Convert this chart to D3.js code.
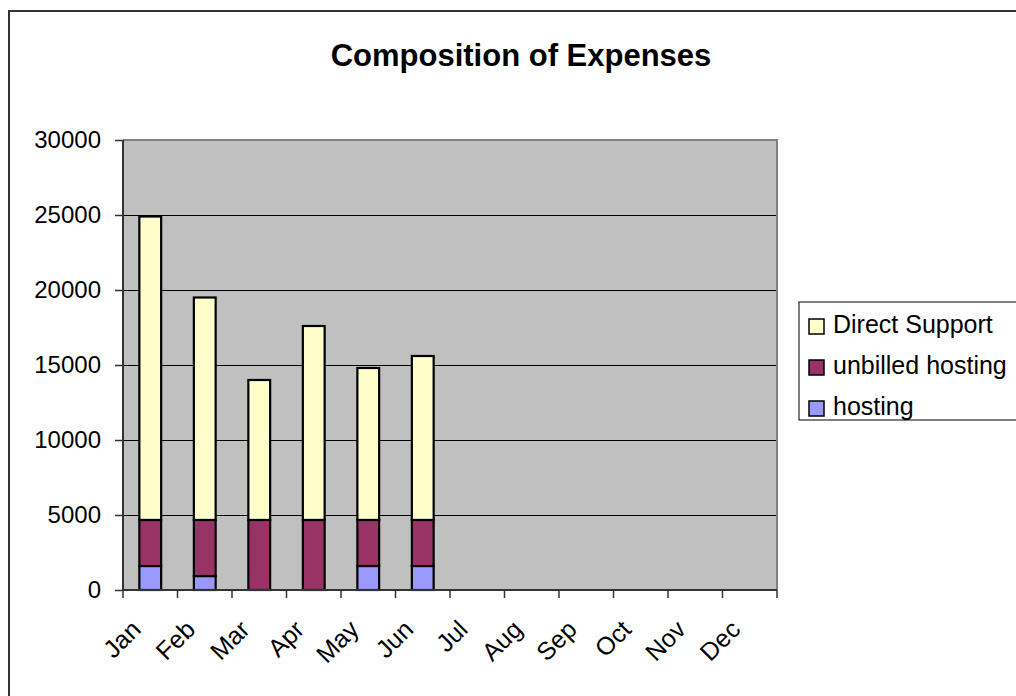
<!DOCTYPE html>
<html>
<head>
<meta charset="utf-8">
<script src="https://cdn.jsdelivr.net/npm/d3@7/dist/d3.min.js"></script>
<style>
html,body{margin:0;padding:0;background:#fff;overflow:hidden;}
svg{display:block;font-family:Arial,"Liberation Sans",sans-serif;}
</style>
</head>
<body>
<svg id="chart" width="1016" height="696"></svg>
<script>
const months = ["Jan","Feb","Mar","Apr","May","Jun","Jul","Aug","Sep","Oct","Nov","Dec"];
const hosting = [1600, 930, 0, 0, 1600, 1600];
const unbilledHosting = [3070, 3740, 4670, 4670, 3070, 3070];
const directSupport = [20230, 14830, 9330, 12930, 10130, 10930];
const yTicks = [0, 5000, 10000, 15000, 20000, 25000, 30000];
const seriesNames = ["hosting", "unbilled hosting", "Direct Support"];
const seriesColors = ["#9999FF", "#993366", "#FFFFCC"];

const svg = d3.select("#chart");
const plot = {left: 123, top: 140, right: 777, bottom: 590};

// outer chart border
svg.append("rect").attr("x", 9).attr("y", 11).attr("width", 1030).attr("height", 720)
  .attr("fill", "#fff").attr("stroke", "#333").attr("stroke-width", 2);

// title
svg.append("text").attr("x", 521).attr("y", 66).attr("text-anchor", "middle")
  .attr("font-size", 31).attr("font-weight", "bold").attr("fill", "#000")
  .text("Composition of Expenses");

const x = d3.scaleBand().domain(months).range([plot.left, plot.right]).paddingInner(0).paddingOuter(0);
const y = d3.scaleLinear().domain([0, 30000]).range([plot.bottom, plot.top]);

// plot background
svg.append("rect").attr("x", plot.left).attr("y", plot.top)
  .attr("width", plot.right - plot.left).attr("height", plot.bottom - plot.top)
  .attr("fill", "#C0C0C0");

// gridlines
svg.append("g").selectAll("line").data(yTicks.filter(d => d > 0)).join("line")
  .attr("x1", plot.left).attr("x2", plot.right)
  .attr("y1", d => y(d)).attr("y2", d => y(d))
  .attr("stroke", "#000").attr("stroke-width", 1).attr("shape-rendering", "crispEdges");

// plot border (top & right gray)
svg.append("path")
  .attr("d", `M${plot.left},${plot.top}H${plot.right}V${plot.bottom}`)
  .attr("fill", "none").attr("stroke", "#808080").attr("stroke-width", 2);

// stacked data
const rows = months.slice(0, directSupport.length).map((m, i) => ({
  month: m, "hosting": hosting[i], "unbilled hosting": unbilledHosting[i], "Direct Support": directSupport[i]
}));
const stack = d3.stack().keys(seriesNames)(rows);
const barW = x.bandwidth() / 2.5;

stack.forEach((layer, li) => {
  svg.append("g").selectAll("rect").data(layer.filter(d => d[1] - d[0] > 0)).join("rect")
    .attr("x", d => x(d.data.month) + (x.bandwidth() - barW) / 2)
    .attr("y", d => y(d[1]))
    .attr("width", barW)
    .attr("height", d => y(d[0]) - y(d[1]))
    .attr("fill", seriesColors[li])
    .attr("stroke", "#000").attr("stroke-width", 2.2);
});

// y axis
const yAxis = d3.axisLeft(y).tickValues(yTicks).tickSize(8).tickPadding(14).tickFormat(d3.format("d"));
const gy = svg.append("g").attr("transform", `translate(${plot.left},0)`).call(yAxis);
gy.select(".domain").attr("stroke", "#333").attr("stroke-width", 2).attr("d", `M0,${plot.top}V${plot.bottom}`);
gy.selectAll(".tick line").attr("stroke", "#333").attr("stroke-width", 1.5);
gy.selectAll(".tick text").attr("font-size", 24).attr("fill", "#000")
  .attr("font-family", "Arial, 'Liberation Sans', sans-serif");

// x axis (ticks on band boundaries)
const bounds = months.map(m => x(m)).concat([plot.right]);
svg.append("line").attr("x1", plot.left).attr("x2", plot.right)
  .attr("y1", plot.bottom).attr("y2", plot.bottom).attr("stroke", "#333").attr("stroke-width", 2);
svg.append("g").selectAll("line").data(bounds).join("line")
  .attr("x1", d => d).attr("x2", d => d).attr("y1", plot.bottom).attr("y2", plot.bottom + 8)
  .attr("stroke", "#333").attr("stroke-width", 1.5);
svg.append("g").selectAll("text").data(months).join("text")
  .attr("transform", d => `translate(${x(d) + x.bandwidth() / 2 - 8},631) rotate(-45)`)
  .attr("text-anchor", "end").attr("font-size", 25).attr("fill", "#000")
  .text(d => d);

// legend
const lg = svg.append("g");
lg.append("rect").attr("x", 799).attr("y", 302).attr("width", 240).attr("height", 118)
  .attr("fill", "#fff").attr("stroke", "#000").attr("stroke-width", 1);
const legendOrder = [2, 1, 0];
legendOrder.forEach((si, k) => {
  const yy = 319 + k * 41;
  lg.append("rect").attr("x", 809).attr("y", yy).attr("width", 15).attr("height", 15)
    .attr("fill", seriesColors[si]).attr("stroke", "#000").attr("stroke-width", 1.5);
  lg.append("text").attr("x", 833).attr("y", yy + 14).attr("font-size", 25).attr("fill", "#000")
    .text(seriesNames[si]);
});
</script>
</body>
</html>
